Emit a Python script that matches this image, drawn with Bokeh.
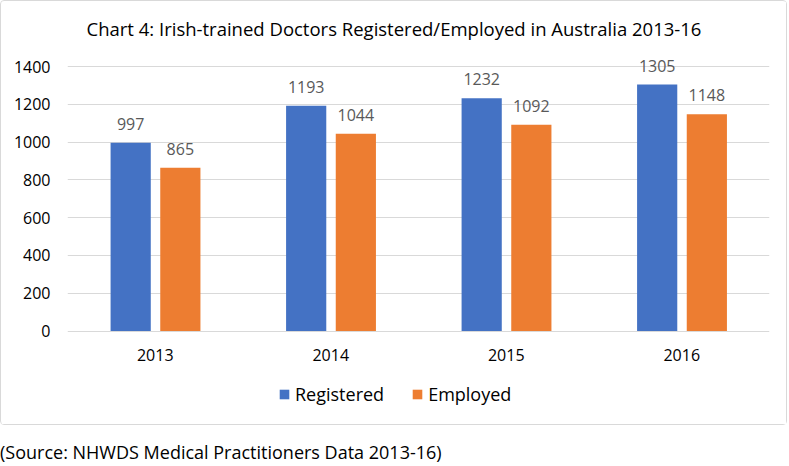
from bokeh.plotting import figure
from bokeh.layouts import column
from bokeh.models import (ColumnDataSource, FactorRange, Range1d, FixedTicker,
                          Legend, LegendItem, Div)
from bokeh.transform import dodge
from bokeh.core.properties import value
from bokeh.embed import file_html
from bokeh.resources import INLINE

years = ["2013", "2014", "2015", "2016"]
registered = [997, 1193, 1232, 1305]
employed = [865, 1044, 1092, 1148]
y_ticks = [0, 200, 400, 600, 800, 1000, 1200, 1400]
title_text = "Chart 4: Irish-trained Doctors Registered/Employed in Australia 2013-16"
source_text = "(Source: NHWDS Medical Practitioners Data 2013-16)"

FONT = "Open Sans"
BLUE = "#4472C4"
ORANGE = "#ED7D31"

src = ColumnDataSource(dict(
    years=years,
    registered=registered,
    employed=employed,
    reg_txt=[str(v) for v in registered],
    emp_txt=[str(v) for v in employed],
))

# frame: 0 -> page y 329, 1400 -> page y 66; it runs from page y 46 to 420
px_per_unit = (329 - 66) / 1400
y_top = 1400 + (66 - 46) / px_per_unit
y_bot = -(420 - 329) / px_per_unit

p = figure(x_range=FactorRange(factors=years, range_padding=0),
           y_range=Range1d(y_bot, y_top),
           width=787, height=425,
           output_backend="svg", toolbar_location=None,
           x_axis_location=None,
           min_border_left=66, min_border_right=19,
           min_border_top=45, min_border_bottom=4,
           styles={"border": "1px solid #D9D9D9", "border-radius": "4px"})
p.outline_line_color = None
p.background_fill_color = "white"
p.border_fill_color = "white"

p.title.text = title_text
p.title.align = "left"
p.title.offset = 19
p.title.standoff = 11
p.title.text_font = FONT
p.title.text_font_size = "18.5px"
p.title.text_font_style = "normal"
p.title.text_color = "#000000"

r1 = p.vbar(x=dodge("years", -0.14, range=p.x_range), top="registered", width=0.229,
            source=src, color=BLUE, line_color=None)
r2 = p.vbar(x=dodge("years", 0.143, range=p.x_range), top="employed", width=0.229,
            source=src, color=ORANGE, line_color=None)

# value labels
p.text(x=dodge("years", -0.14, range=p.x_range), y="registered", text="reg_txt", source=src,
       text_align="center", text_baseline="middle", y_offset=-19,
       text_font=value(FONT), text_font_size="16px", text_color="#595959")
p.text(x=dodge("years", 0.143, range=p.x_range), y="employed", text="emp_txt", source=src,
       text_align="center", text_baseline="middle", y_offset=-19,
       text_font=value(FONT), text_font_size="16px", text_color="#595959")

# category labels under the zero line
p.text(x="years", y=0, text="years", source=src,
       text_align="center", text_baseline="middle", y_offset=24,
       text_font=value(FONT), text_font_size="16px", text_color="#000000")

# y axis
p.yaxis.ticker = FixedTicker(ticks=y_ticks)
p.yaxis.axis_line_color = None
p.yaxis.major_tick_line_color = None
p.yaxis.minor_tick_line_color = None
p.yaxis.major_tick_out = 0
p.yaxis.major_tick_in = 0
p.yaxis.minor_tick_out = 0
p.yaxis.major_label_standoff = 17
p.yaxis.major_label_text_font = FONT
p.yaxis.major_label_text_font_size = "16px"
p.yaxis.major_label_text_color = "#000000"

p.xgrid.grid_line_color = None
p.ygrid.grid_line_color = "#D9D9D9"
p.ygrid.grid_line_width = 1

# legend (inside the frame, below the category labels)
legend = Legend(items=[LegendItem(label="Registered", renderers=[r1]),
                       LegendItem(label="Employed", renderers=[r2])],
                orientation="horizontal", location=(211, 16),
                padding=0, margin=0, spacing=27, label_standoff=5,
                glyph_width=12, glyph_height=12, label_height=24,
                border_line_color=None, background_fill_alpha=0,
                label_text_font=FONT, label_text_font_size="18px",
                label_text_color="#000000")
p.add_layout(legend, "center")

# source note underneath the bordered chart
note = Div(text=source_text, width=787, height=41,
           styles={"font-family": "Open Sans", "font-size": "18px", "color": "#000000",
                   "padding-top": "15px", "line-height": "25px", "white-space": "nowrap",
                   "margin": "0"})

layout = column(p, note, spacing=0)
open("out.html", "w").write(file_html(layout, INLINE))
